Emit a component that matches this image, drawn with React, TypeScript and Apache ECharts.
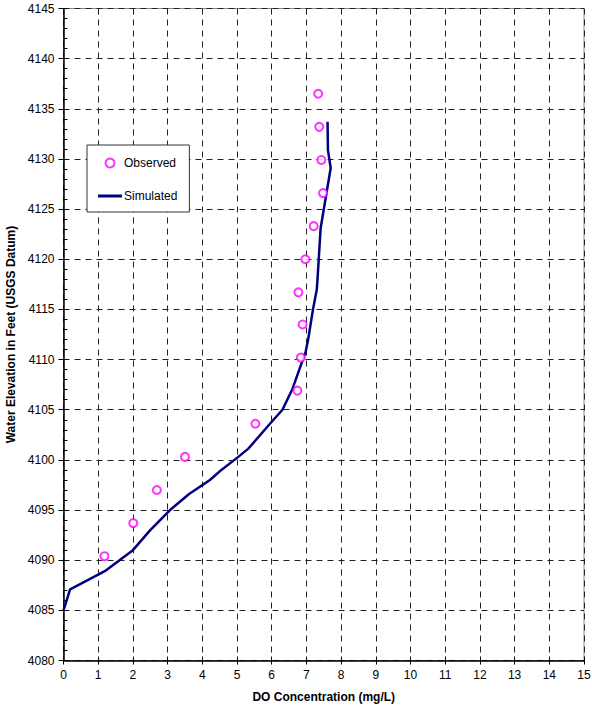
import React, { useEffect, useRef } from "react";
import * as echarts from "echarts";

const obsX = [1.18, 2.01, 2.69, 3.5, 5.53, 6.74, 6.84, 6.89, 6.77, 6.97, 7.21, 7.48, 7.43, 7.37, 7.34];
const obsY = [4090.4, 4093.7, 4097.0, 4100.3, 4103.6, 4106.9, 4110.2, 4113.5, 4116.7, 4120.0, 4123.3, 4126.6, 4129.9, 4133.2, 4136.5];

const simX = [0, 0.19, 1.19, 2.0, 2.5, 3.07, 3.62, 4.22, 4.55, 5.0, 5.32, 5.95, 6.31, 6.6, 6.98, 7.05, 7.19, 7.3, 7.32, 7.41, 7.7, 7.62, 7.61];
const simY = [4085, 4087.1, 4088.9, 4091.0, 4093.0, 4095.0, 4096.6, 4098.0, 4099.0, 4100.2, 4101.1, 4103.6, 4105.0, 4107.1, 4110.8, 4112.0, 4115.0, 4117.0, 4118.0, 4123.1, 4129.1, 4130.9, 4133.7];

const FONT = "'Liberation Sans', Arial, sans-serif";
const plain = (v: number) => String(v);

export default function App() {
  const ref = useRef<HTMLDivElement>(null);
  useEffect(() => {
    if (!ref.current) return;
    const chart = echarts.init(ref.current, null, { renderer: "svg" });
    const gridLine = { show: true, lineStyle: { color: "#222", width: 1, type: [6, 5] as any } };
    chart.setOption({
      animation: false,
      backgroundColor: "#fff",
      textStyle: { fontFamily: FONT },
      grid: {
        left: 63.5, right: 8, top: 8.5, bottom: 50.5,
        outerBoundsMode: "none", containLabel: false,
        show: true, borderColor: "#888", borderWidth: 1, backgroundColor: "transparent",
      },
      legend: {
        orient: "vertical",
        left: 87,
        top: 145,
        backgroundColor: "#fff",
        borderColor: "#333",
        borderWidth: 1,
        borderRadius: 0,
        padding: [12, 12, 10, 11],
        itemWidth: 24,
        itemHeight: 9,
        itemGap: 21,
        textStyle: { fontFamily: FONT, fontSize: 12, color: "#000", padding: [0, 0, 0, -3] },
        data: [
          { name: "Observed", icon: "emptyCircle", itemStyle: { color: "#ff00ff", borderColor: "#ff00ff", borderWidth: 1.5 } },
          { name: "Simulated", icon: "path://M0 0H24V3H0Z", itemStyle: { color: "#000080", borderWidth: 0 } },
        ],
      },
      xAxis: [
        {
          type: "value", min: 0, max: 15, interval: 1,
          name: "DO Concentration (mg/L)", nameLocation: "middle", nameGap: 30,
          nameTextStyle: { fontFamily: FONT, fontSize: 12, fontWeight: "bold", color: "#000" },
          axisLine: { show: true, onZero: false, lineStyle: { color: "#000", width: 1.5 } },
          axisTick: { show: true, inside: false, length: 4, lineStyle: { color: "#000" } },
          axisLabel: { fontFamily: FONT, fontSize: 12, color: "#000", margin: 8, formatter: plain },
          splitLine: gridLine,
        },
        {
          type: "value", min: 0, max: 15, interval: 1, position: "bottom", offset: 0,
          axisLine: { show: false },
          axisTick: { show: true, inside: true, length: 4, lineStyle: { color: "#000" } },
          axisLabel: { show: false },
          splitLine: { show: false },
        },
      ],
      yAxis: [
        {
          type: "value", min: 4080, max: 4145, interval: 5,
          name: "Water Elevation in Feet (USGS Datum)", nameLocation: "middle", nameGap: 41,
          nameTextStyle: { fontFamily: FONT, fontSize: 12, fontWeight: "bold", color: "#000" },
          axisLine: { show: true, onZero: false, lineStyle: { color: "#000", width: 1.5 } },
          axisTick: { show: true, inside: false, length: 5, lineStyle: { color: "#000" } },
          axisLabel: { fontFamily: FONT, fontSize: 12, color: "#000", margin: 9, formatter: plain },
          splitLine: gridLine,
        },
        {
          type: "value", min: 4080, max: 4145, interval: 5, position: "left", offset: 0,
          axisLine: { show: false },
          axisTick: { show: true, inside: true, length: 4, lineStyle: { color: "#000" } },
          minorTick: { show: true, splitNumber: 5, length: 4, lineStyle: { color: "#000" } },
          axisLabel: { show: false },
          splitLine: { show: false },
        },
      ],
      series: [
        {
          name: "Observed",
          type: "scatter",
          symbol: "emptyCircle",
          symbolSize: 8,
          itemStyle: { color: "#ff00ff", borderColor: "#ff00ff", borderWidth: 1.5 },
          data: obsX.map((x, i) => [x, obsY[i]]),
          z: 3,
        },
        {
          name: "Simulated",
          type: "line",
          showSymbol: false,
          symbol: "none",
          lineStyle: { color: "#000080", width: 2.5 },
          itemStyle: { color: "#000080" },
          data: simX.map((x, i) => [x, simY[i]]),
          z: 2,
        },
      ],
    });
    return () => chart.dispose();
  }, []);
  return <div ref={ref} style={{ width: 592, height: 711, position: "absolute", left: 0, top: 0 }} />;
}
